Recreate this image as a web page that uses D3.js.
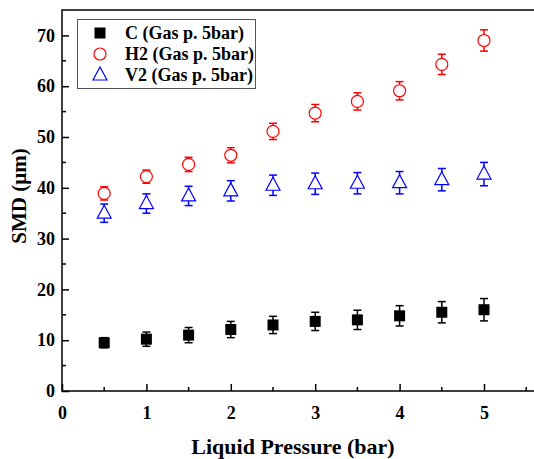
<!DOCTYPE html>
<html>
<head>
<meta charset="utf-8">
<script src="https://cdn.jsdelivr.net/npm/d3@7"></script>
<style>
body{margin:0;background:#fff;}
text{font-family:"Liberation Serif","Times New Roman",serif;font-weight:bold;}
</style>
</head>
<body>
<div id="chart"></div>
<script>
// liquid pressure (bar)
var pressure=[0.5,1,1.5,2,2.5,3,3.5,4,4.5,5];
var cVals=[9.5,10.2,11.0,12.1,13.0,13.7,14.0,14.8,15.5,16.0];
var cErr=[1.0,1.4,1.5,1.6,1.7,1.8,1.9,2.0,2.1,2.2];
var h2Vals=[38.9,42.2,44.6,46.4,51.1,54.7,57.0,59.1,64.3,69.0];
var h2Err=[1.3,1.3,1.4,1.5,1.6,1.7,1.7,1.8,2.0,2.1];
var v2Vals=[35.0,36.9,38.4,39.4,40.5,40.8,40.9,41.0,41.6,42.7];
var v2Err=[1.8,1.9,1.9,2.0,2.0,2.1,2.1,2.2,2.2,2.3];
var xTicks=[0,1,2,3,4,5];
var yTicks=[0,10,20,30,40,50,60,70];
var seriesNames=["C (Gas p. 5bar)","H2 (Gas p. 5bar)","V2 (Gas p. 5bar)"];

var width=534,height=459;
var svg=d3.select("#chart").append("svg").attr("width",width).attr("height",height);

var x=d3.scaleLinear().domain([0,5]).range([62,484]);
var y=d3.scaleLinear().domain([0,75]).range([391,10]);

var series=[
  {name:seriesNames[0],vals:cVals,err:cErr,color:"#000",shape:"square"},
  {name:seriesNames[1],vals:h2Vals,err:h2Err,color:"#ff0000",shape:"circle"},
  {name:seriesNames[2],vals:v2Vals,err:v2Err,color:"#0000ff",shape:"triangle"}
];

// frame (right edge falls outside the picture)
svg.append("path")
  .attr("d","M540,10H62V391H540")
  .attr("fill","none").attr("stroke","#000").attr("stroke-width",1.5);

// bottom axis, ticks inward
var xAxis=d3.axisBottom(x).tickValues(xTicks).tickSize(-7).tickPadding(12).tickFormat(d3.format("d"));
var gx=svg.append("g").attr("transform","translate(0,391)").call(xAxis);
gx.select(".domain").remove();
gx.selectAll(".tick line").attr("stroke-width",1.5);
gx.selectAll("text").attr("font-size",18).attr("font-family","Liberation Serif").attr("font-weight","bold").attr("dy","0.9em");
// minor x ticks
svg.append("g").selectAll("line").data(d3.range(0.5,5.6,1)).enter().append("line")
  .attr("x1",function(d){return x(d);}).attr("x2",function(d){return x(d);})
  .attr("y1",391).attr("y2",387).attr("stroke","#000").attr("stroke-width",1.5);

var yAxis=d3.axisLeft(y).tickValues(yTicks).tickSize(-7).tickPadding(7);
var gy=svg.append("g").attr("transform","translate(62,0)").call(yAxis);
gy.select(".domain").remove();
gy.selectAll(".tick line").attr("stroke-width",1.5);
gy.selectAll("text").attr("font-size",18).attr("font-family","Liberation Serif").attr("font-weight","bold");
svg.append("g").selectAll("line").data(d3.range(5,75,10)).enter().append("line")
  .attr("x1",62).attr("x2",66)
  .attr("y1",function(d){return y(d);}).attr("y2",function(d){return y(d);})
  .attr("stroke","#000").attr("stroke-width",1.5);

// axis titles
svg.append("text").attr("x",293).attr("y",454).attr("text-anchor","middle")
  .attr("font-size",22).text("Liquid Pressure (bar)");
svg.append("text").attr("transform","translate(26,196) rotate(-90)").attr("text-anchor","middle")
  .attr("font-size",21).text("SMD (\u03bcm)");

function drawMarker(g,shape,color){
  if(shape==="square"){
    g.append("rect").attr("x",-5.5).attr("y",-5.5).attr("width",11).attr("height",11).attr("fill",color);
  }else if(shape==="circle"){
    g.append("circle").attr("r",6).attr("fill","none").attr("stroke",color).attr("stroke-width",1.2);
  }else{
    g.append("path").attr("d","M0,-8L7,5H-7Z").attr("fill","none").attr("stroke",color).attr("stroke-width",1.2);
  }
}

series.forEach(function(s){
  var g=svg.append("g");
  var pts=g.selectAll("g.pt").data(pressure.map(function(p,i){return {x:p,v:s.vals[i],e:s.err[i]};}))
    .enter().append("g").attr("class","pt");
  pts.append("line")
    .attr("x1",function(d){return x(d.x);}).attr("x2",function(d){return x(d.x);})
    .attr("y1",function(d){return y(d.v+d.e);}).attr("y2",function(d){return y(d.v-d.e);})
    .attr("stroke",s.color).attr("stroke-width",1.5);
  [1,-1].forEach(function(sg){
    pts.append("line")
      .attr("x1",function(d){return x(d.x)-4;}).attr("x2",function(d){return x(d.x)+4;})
      .attr("y1",function(d){return y(d.v+sg*d.e);}).attr("y2",function(d){return y(d.v+sg*d.e);})
      .attr("stroke",s.color).attr("stroke-width",1.5);
  });
  pts.each(function(d){
    var m=d3.select(this).append("g").attr("transform","translate("+x(d.x)+","+y(d.v)+")");
    if(s.shape!=="square"){
      m.append(s.shape==="circle"?"circle":"path")
        .attr("r",6).attr("d","M0,-8L7,5H-7Z").attr("fill","#fff").attr("stroke","none");
    }
    drawMarker(m,s.shape,s.color);
  });
});

// legend
var legend=svg.append("g");
legend.append("rect").attr("x",77.5).attr("y",19.5).attr("width",178).attr("height",69)
  .attr("fill","#fff").attr("stroke","#555").attr("stroke-width",1);
series.forEach(function(s,i){
  var yy=33+i*21;
  var m=legend.append("g").attr("transform","translate(100,"+yy+")");
  drawMarker(m,s.shape,s.color);
  legend.append("text").attr("x",125).attr("y",yy).attr("dy","0.35em")
    .attr("font-size",18).text(s.name);
});
</script>
</body>
</html>
